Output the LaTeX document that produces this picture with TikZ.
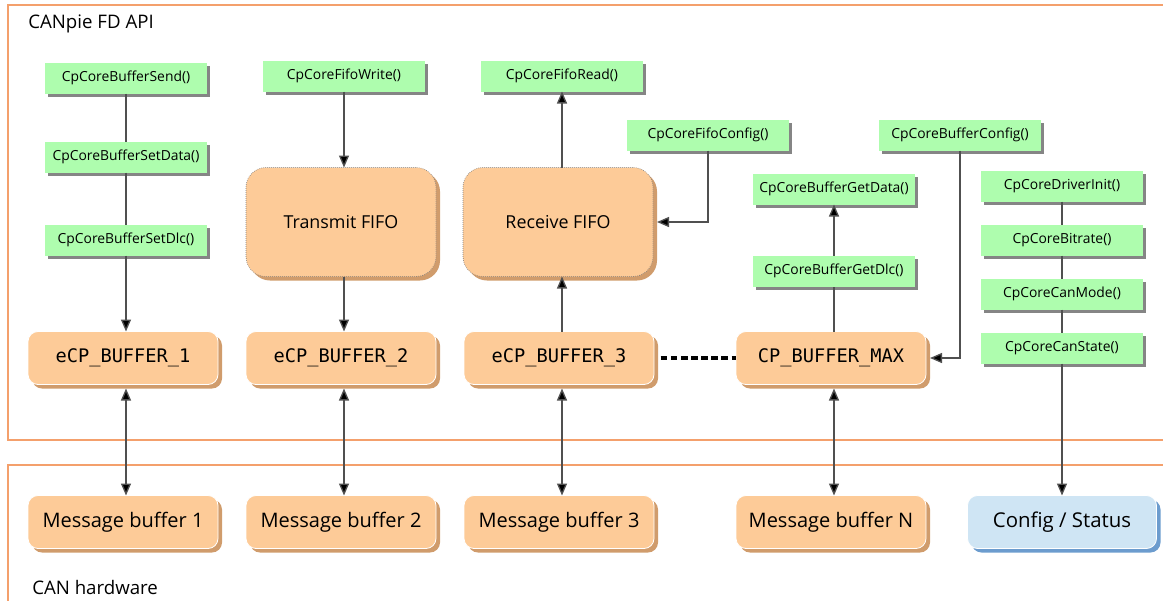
\documentclass[tikz,border=0pt]{standalone}
\usepackage{fontspec}
\setmainfont{Open Sans}
\setmonofont{DejaVu Sans Mono}
\usetikzlibrary{arrows.meta,shadows,positioning}
\definecolor{orfill}{HTML}{FDCB98}
\definecolor{orshadow}{HTML}{D09C6C}
\definecolor{grfill}{HTML}{AEFDAE}
\definecolor{grshadow}{HTML}{858585}
\definecolor{blfill}{HTML}{CFE5F4}
\definecolor{blshadow}{HTML}{6C9CCE}
\definecolor{framecol}{HTML}{F4A06C}
\definecolor{linecol}{HTML}{505050}
\begin{document}
\begin{tikzpicture}[x=0.75pt,y=-0.75pt,
  fnbox/.style={fill=grfill,draw=none,minimum width=121.5pt,minimum height=23.25pt,
    inner sep=0pt,outer sep=0pt,font=\fontsize{10.4pt}{12pt}\selectfont,
    general shadow={fill=grshadow,shadow xshift=2.5pt,shadow yshift=-2.5pt}},
  bufbox/.style={fill=orfill,draw=white,line width=0.6pt,rounded corners=7.5pt,
    minimum width=142.5pt,minimum height=39.75pt,inner sep=0pt,outer sep=0pt,
    general shadow={fill=orshadow,rounded corners=7.5pt,shadow xshift=3pt,shadow yshift=-3pt}},
  monotxt/.style={font=\ttfamily\fontsize{14pt}{16pt}\selectfont},
  hwtxt/.style={font=\fontsize{15pt}{18pt}\selectfont},
  fifobox/.style={fill=orfill,draw=gray,densely dotted,line width=0.5pt,rounded corners=15pt,
    minimum width=142.5pt,minimum height=81.75pt,inner sep=0pt,outer sep=0pt,
    font=\fontsize{13.4pt}{16pt}\selectfont,
    general shadow={fill=orshadow,draw=none,solid,rounded corners=15pt,shadow xshift=3pt,shadow yshift=-3pt}},
  cfgbox/.style={fill=blfill,draw=white,line width=0.6pt,rounded corners=7.5pt,
    minimum width=141.75pt,minimum height=39.75pt,inner sep=0pt,outer sep=0pt,
    font=\fontsize{15.3pt}{18pt}\selectfont,
    general shadow={fill=blshadow,rounded corners=7.5pt,shadow xshift=3pt,shadow yshift=-3pt}},
  conn/.style={draw=linecol,line width=1pt},
  arr/.style={conn,-{Triangle[length=9pt,width=7.5pt,fill=black]}},
  darr/.style={conn,{Triangle[length=9pt,width=7.5pt,fill=black]}-{Triangle[length=9pt,width=7.5pt,fill=black]}},
  lbl/.style={font=\fontsize{14pt}{16pt}\selectfont,anchor=west,inner sep=0pt}
]
\useasboundingbox (0,0) rectangle (1163,600);
% frames
\draw[framecol,line width=0.8pt] (1170,5) -- (8,5) -- (8,440) -- (1170,440);
\draw[framecol,line width=0.8pt] (1170,465) -- (8,465) -- (8,610);
\node[lbl] (apilbl) at (28,24) {CANpie FD API};
\node[lbl] (hwlbl) at (32,587) {CAN hardware};

% green function boxes
\node[fnbox] (send) at (126,78) {CpCoreBufferSend()};
\node[fnbox] (setdata) at (126,157) {CpCoreBufferSetData()};
\node[fnbox] (setdlc) at (126,240) {CpCoreBufferSetDlc()};
\node[fnbox] (fwrite) at (344,76) {CpCoreFifoWrite()};
\node[fnbox] (fread) at (562,76) {CpCoreFifoRead()};
\node[fnbox] (fconfig) at (708,135) {CpCoreFifoConfig()};
\node[fnbox] (bconfig) at (960,135) {CpCoreBufferConfig()};
\node[fnbox] (getdata) at (834,189) {CpCoreBufferGetData()};
\node[fnbox] (getdlc) at (834,271) {CpCoreBufferGetDlc()};
\node[fnbox] (drvinit) at (1062,186) {CpCoreDriverInit()};
\node[fnbox] (bitrate) at (1062,240) {CpCoreBitrate()};
\node[fnbox] (canmode) at (1062,294) {CpCoreCanMode()};
\node[fnbox] (canstate) at (1062,348) {CpCoreCanState()};

% FIFOs
\node[fifobox] (tx) at (341,222) {Transmit FIFO};
\node[fifobox] (rx) at (558,222) {Receive FIFO};

% buffers
\node[bufbox,monotxt] (b1) at (123,358) {eCP\_BUFFER\_1};
\node[bufbox,monotxt] (b2) at (341,358) {eCP\_BUFFER\_2};
\node[bufbox,monotxt] (b3) at (559,358) {eCP\_BUFFER\_3};
\node[bufbox,monotxt] (bmax) at (831,358) {CP\_BUFFER\_MAX};

% hardware
\node[bufbox,hwtxt] (m1) at (123,522) {Message buffer 1};
\node[bufbox,hwtxt] (m2) at (341,522) {Message buffer 2};
\node[bufbox,hwtxt] (m3) at (559,522) {Message buffer 3};
\node[bufbox,hwtxt] (mn) at (831,522) {Message buffer N};
\node[cfgbox] (cfg) at (1062,522) {Config / Status};

% connectors
\draw[conn] (send) -- (setdata);
\draw[conn] (setdata) -- (setdlc);
\draw[arr] (setdlc.south) -- (setdlc.south |- b1.north);
\draw[arr] (fwrite.south) -- (fwrite.south |- tx.north);
\draw[arr] (fwrite.south |- tx.south) -- (fwrite.south |- b2.north);
\draw[arr] (fread.south |- b3.north) -- (fread.south |- rx.south);
\draw[arr] (fread.south |- rx.north) -- (fread.south);
\draw[arr] (fconfig.south) |- ([xshift=3pt]rx.east);
\draw[arr] (bconfig.south) |- ([xshift=3pt]bmax.east);
\draw[conn] (getdlc.south |- bmax.north) -- (getdlc.south);
\draw[arr] (getdlc) -- (getdata);
\draw[conn] (drvinit) -- (bitrate);
\draw[conn] (bitrate) -- (canmode);
\draw[conn] (canmode) -- (canstate);
\draw[arr] (canstate) -- (cfg);
\draw[darr] ([xshift=2.25pt,yshift=-3pt]b1.south) -- ([xshift=2.25pt]m1.north);
\draw[darr] ([xshift=2.25pt,yshift=-3pt]b2.south) -- ([xshift=2.25pt]m2.north);
\draw[darr] ([xshift=2.25pt,yshift=-3pt]b3.south) -- ([xshift=2.25pt]m3.north);
\draw[darr] ([xshift=2.25pt,yshift=-3pt]bmax.south) -- ([xshift=2.25pt]mn.north);
\draw[black,line width=2.4pt,dash pattern=on 5pt off 2.6pt] ([xshift=5pt]b3.east) -- (bmax.west);
\end{tikzpicture}
\end{document}
